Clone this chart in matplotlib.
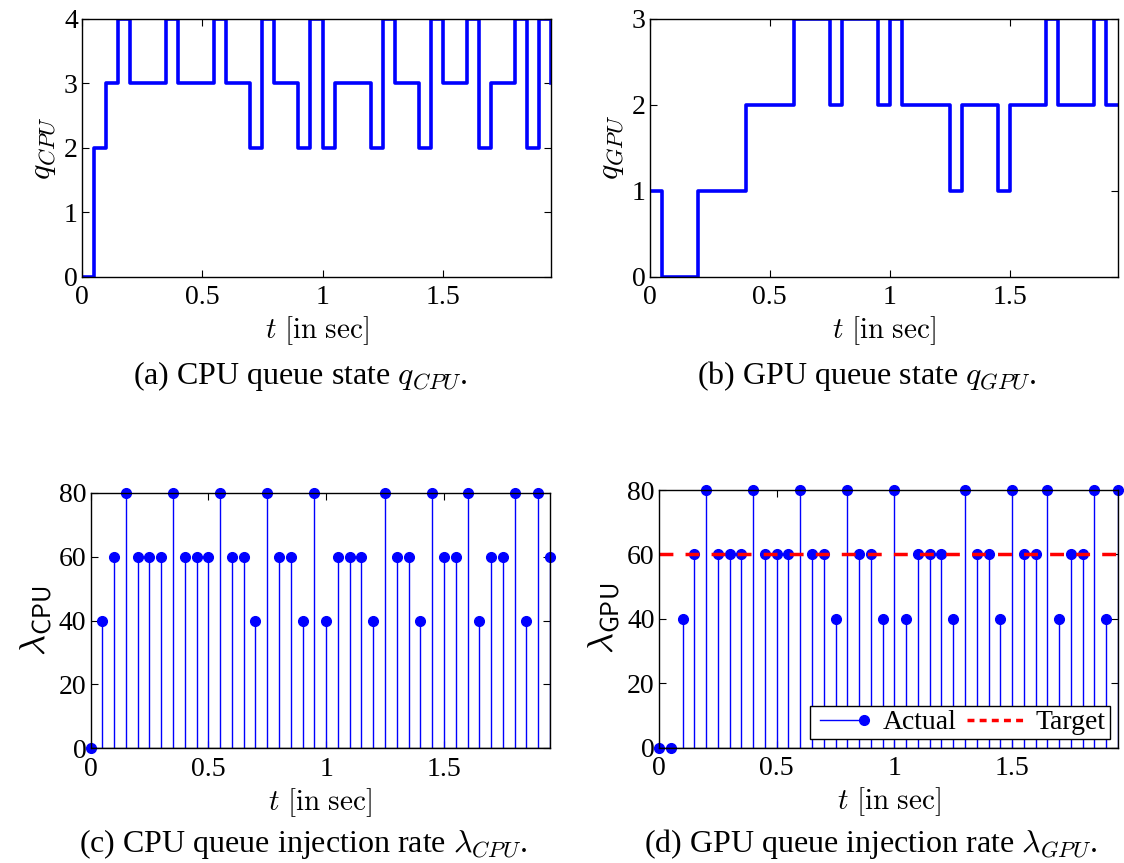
import numpy as np
import matplotlib
matplotlib.use('Agg')
import matplotlib.pyplot as plt
from matplotlib.lines import Line2D
from matplotlib.legend_handler import HandlerLine2D

plt.rcParams['font.family'] = ['Liberation Serif', 'DejaVu Serif']
plt.rcParams['mathtext.fontset'] = 'cm'
plt.rcParams['font.size'] = 20

# sample times (s)
t = np.arange(40) * 0.05

q_cpu = [0, 2, 3, 4, 3, 3, 3, 4, 3, 3, 3, 4, 3, 3, 2, 4, 3, 3, 2, 4,
         2, 3, 3, 3, 2, 4, 3, 3, 2, 4, 3, 3, 4, 2, 3, 3, 4, 2, 4, 3]
q_gpu = [1, 0, 0, 0, 1, 1, 1, 1, 2, 2, 2, 2, 3, 3, 3, 2, 3, 3, 3, 2,
         3, 2, 2, 2, 2, 1, 2, 2, 2, 1, 2, 2, 2, 3, 2, 2, 2, 3, 2, 2]
lam_cpu = [0, 40, 60, 80, 60, 60, 60, 80, 60, 60, 60, 80, 60, 60, 40, 80, 60, 60, 40, 80,
           40, 60, 60, 60, 40, 80, 60, 60, 40, 80, 60, 60, 80, 40, 60, 60, 80, 40, 80, 60]
lam_gpu = [0, 0, 40, 60, 80, 60, 60, 60, 80, 60, 60, 60, 80, 60, 60, 40, 80, 60, 60, 40,
           80, 40, 60, 60, 60, 40, 80, 60, 60, 40, 80, 60, 60, 80, 40, 60, 60, 80, 40, 80]
target_gpu = 60

W, H = 1124, 863
fig = plt.figure(figsize=(W / 100, H / 100), dpi=100)

def box(l, r, top, bot):
    return [l / W, 1 - bot / H, (r - l) / W, (bot - top) / H]

ax1 = fig.add_axes(box(82, 551, 19, 276.7))
ax2 = fig.add_axes(box(649.5, 1118, 19, 276.7))
ax3 = fig.add_axes(box(90.5, 550, 492.7, 748.3))
ax4 = fig.add_axes(box(659, 1118, 490, 747.8))

def style(ax):
    ax.tick_params(direction='in', top=True, right=True, length=5, width=0.8,
                   labelsize=20)
    ax.tick_params(axis='x', pad=6)
    ax.tick_params(axis='y', pad=3)
    for s in ax.spines.values():
        s.set_linewidth(1.0)
    ax.set_xlim(0, 1.95)
    ax.set_xticks([0, 0.5, 1, 1.5])
    ax.set_xticklabels(['0', '0.5', '1', '1.5'])
    ax.set_xlabel(r'$t\ \mathrm{[in\ sec]}$', fontsize=21, labelpad=3)

# queue states
ax1.step(t, q_cpu, where='post', color='b', lw=2.6)
ax1.set_ylim(0, 4)
ax1.set_yticks([0, 1, 2, 3, 4])
ax1.set_ylabel(r'$q_{CPU}$', fontsize=23, labelpad=4)
style(ax1)

ax2.step(t, q_gpu, where='post', color='b', lw=2.6)
ax2.set_ylim(0, 3)
ax2.set_yticks([0, 1, 2, 3])
ax2.set_ylabel(r'$q_{GPU}$', fontsize=23, labelpad=4)
style(ax2)

# injection rates
for ax, lam, name in [(ax3, lam_cpu, 'CPU'), (ax4, lam_gpu, 'GPU')]:
    ml, sl, bl = ax.stem(t, lam, linefmt='b-', markerfmt='bo', basefmt='k-')
    sl.set_linewidth(1.0)
    ml.set_markersize(7)
    ml.set_clip_on(False)
    bl.set_linewidth(1.0)
    ax.set_ylim(0, 80)
    ax.set_yticks([0, 20, 40, 60, 80])
    ax.set_ylabel(r'$\lambda_{\mathsf{' + name + '}}$', fontsize=26, labelpad=3)
    style(ax)

ax4.axhline(target_gpu, color='r', ls='--', lw=2.5, dashes=(4, 3.5))


class StemHandler(HandlerLine2D):
    # line with the marker only at its right end, like the MATLAB stem legend
    def create_artists(self, *args, **kwargs):
        arts = super().create_artists(*args, **kwargs)
        for a in arts:
            a.set_markevery([len(a.get_xdata()) - 1])
        return arts


actual = Line2D([], [], color='b', lw=1.0, marker='o', markersize=7)
target = Line2D([], [], color='r', lw=2.5, ls='--', dashes=(2, 1.5))
leg = ax4.legend([actual, target], ['Actual', 'Target'], ncol=2, loc='lower right',
                 handler_map={actual: StemHandler(numpoints=2, marker_pad=0.2)},
                 fancybox=False, edgecolor='k', framealpha=1, fontsize=20,
                 handlelength=2.0, handletextpad=0.45, columnspacing=0.4,
                 borderpad=0.15, borderaxespad=0.3)
leg.get_frame().set_linewidth(1.0)

# subfigure captions
fig.text(300 / W, 1 - 376 / H, r'(a) CPU queue state $q_{CPU}$.', ha='center', va='center', fontsize=23)
fig.text(867 / W, 1 - 376 / H, r'(b) GPU queue state $q_{GPU}$.', ha='center', va='center', fontsize=23)
fig.text(303 / W, 1 - 844 / H, r'(c) CPU queue injection rate $\lambda_{CPU}$.', ha='center', va='center', fontsize=23)
fig.text(871 / W, 1 - 844 / H, r'(d) GPU queue injection rate $\lambda_{GPU}$.', ha='center', va='center', fontsize=23)

fig.savefig('out.png', dpi=100)
